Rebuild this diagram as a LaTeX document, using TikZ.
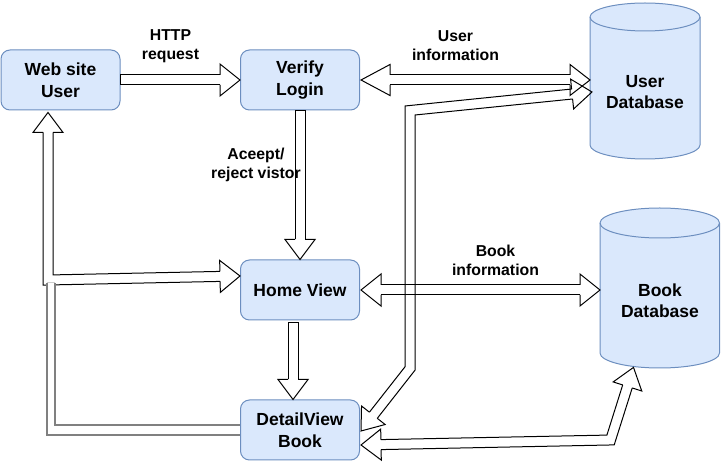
\documentclass[tikz,border=0pt]{standalone}
\usepackage{fontspec}
\setmainfont{Liberation Sans}
\usetikzlibrary{calc}
\definecolor{boxfill}{HTML}{DAE8FC}
\definecolor{boxline}{HTML}{6C8EBF}
\definecolor{greyline}{HTML}{808080}
\newcommand\ndfont{\fontsize{17.5}{21.5}\selectfont\bfseries}
\newcommand\lbfont{\fontsize{15.8}{18.5}\selectfont\bfseries}
% flex arrow head: #1 tip, #2 point behind, #3 head length, #4 head half width, #5 name
\newcommand\fhead[5]{%
  \coordinate (#5-b) at ($(#1)!#3pt!(#2)$);
  \coordinate (#5-l) at ($(#5-b)!5pt!90:(#1)$);
  \coordinate (#5-r) at ($(#5-b)!5pt!-90:(#1)$);
  \draw[arr] (#5-l) -- ($(#5-b)!#4pt!90:(#1)$) -- (#1) -- ($(#5-b)!#4pt!-90:(#1)$) -- (#5-r);
}
\begin{document}
\begin{tikzpicture}[x=1pt,y=-1pt,
  box/.style={draw=boxline, fill=boxfill, line width=1pt, rounded corners=9pt, minimum width=119pt, minimum height=60pt, inner sep=0pt, align=center, font=\ndfont},
  dbtext/.style={align=center, font=\ndfont, inner sep=0pt},
  lbl/.style={align=center, font=\lbfont, inner sep=0pt},
  cylst/.style={draw=boxline, fill=boxfill, line width=1pt},
  arr/.style={draw=black, line width=1pt, line join=miter},
  greyarr/.style={draw=greyline, line width=1.3pt, line join=miter}]

\useasboundingbox (0,0) rectangle (721,462);

% process boxes
\node[box] (web) at (60.5,80) {Web site\\User};
\node[box] (verify) at (300,80) {Verify\\Login};
\node[box] (home) at (300,290) {Home View};
\node[box] (detail) at (300,430) {DetailView\\Book};

% databases
\filldraw[cylst] (590,17) -- (590,145) arc[start angle=180,end angle=0,x radius=55,y radius=14] -- (700,17) arc[start angle=0,end angle=-180,x radius=55,y radius=14] -- cycle;
\draw[cylst, fill=none] (590,17) arc[start angle=180,end angle=0,x radius=55,y radius=14];
\node[dbtext] (udb) at (645,92) {User\\Database};

\filldraw[cylst] (600,223) -- (600,353) arc[start angle=180,end angle=0,x radius=59.75,y radius=15] -- (719.5,223) arc[start angle=0,end angle=-180,x radius=59.75,y radius=15] -- cycle;
\draw[cylst, fill=none] (600,223) arc[start angle=180,end angle=0,x radius=59.75,y radius=15];
\node[dbtext] (bdb) at (660,300.5) {Book\\Database};

\coordinate (udbA) at (590,80);
\coordinate (udbB) at (592,92);
\coordinate (bdbA) at (600,290);
\coordinate (bdbB) at (633.5,367.4);

% web -> verify
\fhead{verify.west}{web.east}{20}{16}{h1}
\draw[arr] (h1-r) -- ($(web.east)+(0,5)$) -- ($(web.east)+(0,-5)$) -- (h1-l);

% verify <-> user db
\coordinate (t2a) at ($(verify.east)+(1,0)$);
\fhead{udbA}{t2a}{20}{15.5}{h2b}
\fhead{t2a}{udbA}{29}{15.5}{h2a}
\draw[arr] (h2a-r) -- (h2b-l);
\draw[arr] (h2a-l) -- (h2b-r);

% verify -> home
\fhead{home.north}{verify.south}{20}{15}{h3}
\draw[arr] (h3-r) -- ($(verify.south)+(-5,0)$) -- ($(verify.south)+(5,0)$) -- (h3-l);

% home <-> book db
\coordinate (t4a) at ($(home.east)+(1,0)$);
\fhead{bdbA}{t4a}{20}{16}{h4b}
\fhead{t4a}{bdbA}{20}{16}{h4a}
\draw[arr] (h4a-r) -- (h4b-l);
\draw[arr] (h4a-l) -- (h4b-r);

% home -> detail
\coordinate (s5) at ($(home.south)+(-7,2)$);
\coordinate (t5) at ($(detail.north)+(-7,0)$);
\fhead{t5}{s5}{20}{15}{h5}
\draw[arr] (h5-r) -- ($(s5)+(-5,0)$) -- ($(s5)+(5,0)$) -- (h5-l);

% web <-> home
\coordinate (t6a) at ($(web.south)+(-12.5,2)$);
\coordinate (k6) at (48,280);
\coordinate (t6b) at ($(home.west)+(0,-14)$);
\fhead{t6a}{k6}{20}{15}{h6a}
\fhead{t6b}{k6}{20}{16}{h6b}
\draw[arr] (h6a-l) -- (43,285.1) -- (h6b-r);
\draw[arr] (h6a-r) -- (53,274.9) -- (h6b-l);

% detail <-> user db
\coordinate (t8a) at ($(detail.east)+(1,1)$);
\coordinate (k8a) at (410,368.5);
\coordinate (k8b) at (410,110.5);
\fhead{t8a}{k8a}{20}{15}{h8a}
\fhead{udbB}{k8b}{20}{15}{h8b}
\draw[arr] (h8a-r) -- (405,366.8) -- (405,106) -- (h8b-l);
\draw[arr] (h8a-l) -- (415,370.2) -- (415,115) -- (h8b-r);

% detail <-> book db
\coordinate (t9a) at ($(detail.east)+(1,15)$);
\coordinate (k9) at (610.5,440);
\fhead{t9a}{k9}{20}{15.5}{h9a}
\fhead{bdbB}{k9}{20}{15}{h9b}
\draw[arr] (h9a-r) -- (606.9,435.1) -- (h9b-l);
\draw[arr] (h9a-l) -- (614.2,444.9) -- (h9b-r);

% detail -> web/home link (grey)
\coordinate (g1) at ($(detail.west)+(-0.5,-5)$);
\coordinate (g2) at ($(detail.west)+(-0.5,5)$);
\fill[white] (g1) -- (55,425) -- (55,283) -- (47,283) -- (47,435) -- (g2) -- cycle;
\draw[greyarr] (g1) -- (55,425) -- (55,283);
\draw[greyarr] (47,283) -- (47,435) -- (g2);
\draw[draw=greyline!40, line width=1pt] (47,283) -- (55,283);

% labels
\node[lbl] (l1) at (170.5,46) {HTTP\\request};
\node[lbl] (l2) at (455.5,45.5) {User\\information};
\node[lbl] (l3) at (256,165) {Aceept/\\reject vistor};
\node[lbl] (l4) at (495.5,260.5) {Book\\information};
\end{tikzpicture}
\end{document}
